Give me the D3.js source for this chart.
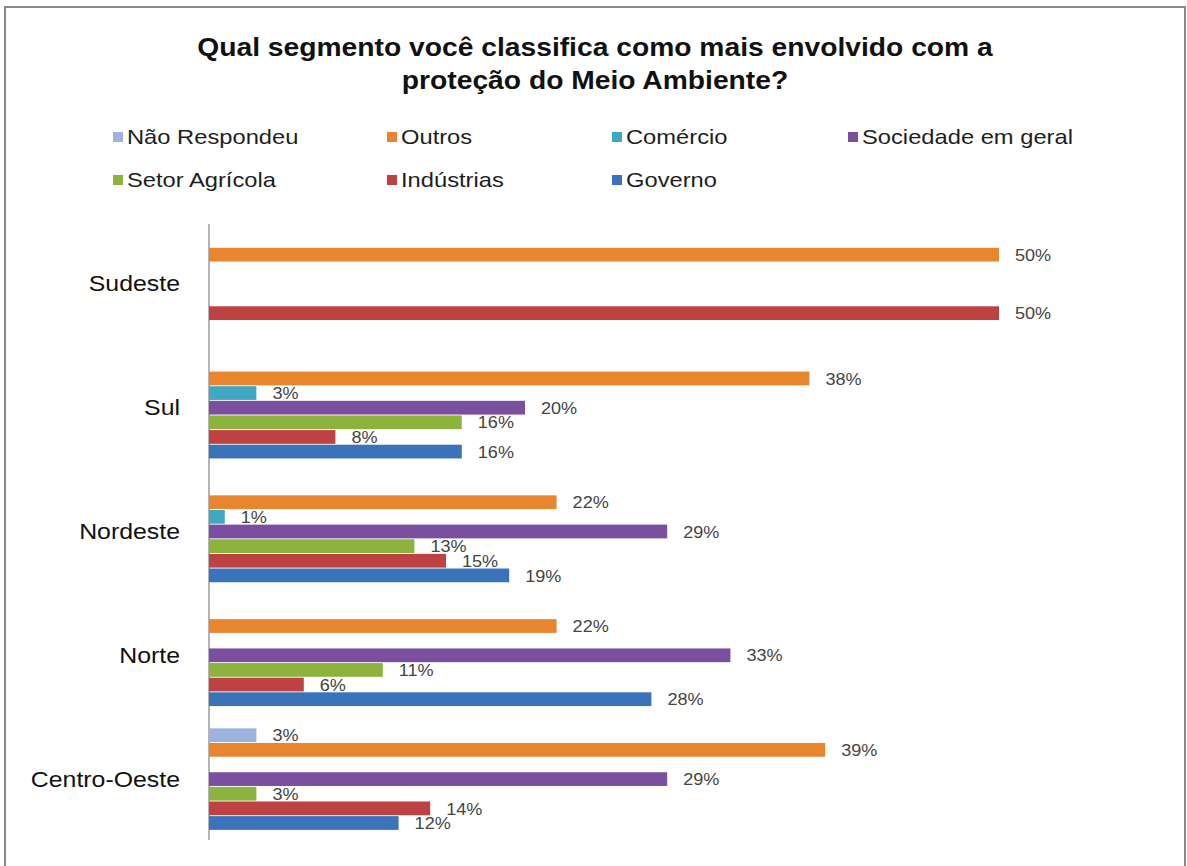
<!DOCTYPE html>
<html><head><meta charset="utf-8">
<script src="https://cdn.jsdelivr.net/npm/d3@7/dist/d3.min.js"></script>
<style>body{margin:0;background:#fff;} text{font-family:"Liberation Sans",Arial,sans-serif;}</style>
</head><body>
<svg id="chart" width="1187" height="866"></svg>
<script>
// ---- data ----
const categories = ["Sudeste", "Sul", "Nordeste", "Norte", "Centro-Oeste"];
const seriesNames = ["Não Respondeu", "Outros", "Comércio", "Sociedade em geral", "Setor Agrícola", "Indústrias", "Governo"];
const naoRespondeu = [0, 0, 0, 0, 3];
const outros       = [50, 38, 22, 22, 39];
const comercio     = [0, 3, 1, 0, 0];
const sociedade    = [0, 20, 29, 33, 29];
const setorAgricola= [0, 16, 13, 11, 3];
const industrias   = [50, 8, 15, 6, 14];
const governo      = [0, 16, 19, 28, 12];
const seriesValues = [naoRespondeu, outros, comercio, sociedade, setorAgricola, industrias, governo];
const seriesColors = ["#9db3de", "#e8852f", "#3fa8c2", "#7b4fa0", "#8db33f", "#be4242", "#3a73b9"];
const titleLines = ["Qual segmento você classifica como mais envolvido com a", "proteção do Meio Ambiente?"];

// ---- layout ----
const svg = d3.select("#chart");
const SX = 1.13; // horizontal text stretch of the original

function stext(g, x, y, str, opts) {
  const t = g.append("text")
    .attr("transform", `translate(${x},${y}) scale(${SX},1)`)
    .attr("x", 0).attr("y", 0)
    .text(str);
  for (const k in opts) t.attr(k, opts[k]);
  return t;
}

// frame
svg.append("rect").attr("x", 5).attr("y", 7).attr("width", 1180).attr("height", 880)
  .attr("fill", "#fff").attr("stroke", "#8a8a8a").attr("stroke-width", 2);

// title
titleLines.forEach((l, i) => {
  stext(svg, 595, 56 + i * 33, l, {"text-anchor": "middle", "font-size": 25, "font-weight": "bold", "fill": "#111"});
});

// legend
const legendPos = [[113,137],[387,137],[612,137],[848,137],[113,180],[387,180],[612,180]];
const lg = svg.append("g");
seriesNames.forEach((s, i) => {
  const [lx, ly] = legendPos[i];
  lg.append("rect").attr("x", lx).attr("y", ly - 5).attr("width", 10).attr("height", 10).attr("fill", seriesColors[i]);
  stext(lg, lx + 14, ly, s, {"font-size": 21, "fill": "#1e1e1e", "dominant-baseline": "central"});
});

// scales
const x = d3.scaleLinear().domain([0, 50]).range([209, 999]);
const y0 = d3.scaleBand().domain(categories).range([222, 841]).paddingInner(0.18).paddingOuter(0.09);
const y1 = d3.scaleBand().domain(seriesNames).range([0, y0.bandwidth()]).paddingInner(0.06);

// axis line
const yAxis = d3.axisLeft(y0).tickSize(0).tickFormat("");
const ag = svg.append("g").attr("transform", `translate(${x(0)},0)`).call(yAxis);
ag.select(".domain").attr("stroke", "#8c8c8c").attr("stroke-width", 1.3)
  .attr("d", `M0,224V840`);

// category labels
categories.forEach(c => {
  stext(svg, 180, y0(c) + y0.bandwidth() / 2, c, {"text-anchor": "end", "font-size": 22, "fill": "#111", "dominant-baseline": "central"});
});

// bars
const data = [];
categories.forEach((c, ci) => {
  seriesNames.forEach((s, si) => {
    const v = seriesValues[si][ci];
    if (v > 0) data.push({c, s, v, color: seriesColors[si]});
  });
});
svg.append("g").selectAll("rect").data(data).join("rect")
  .attr("x", x(0))
  .attr("y", d => y0(d.c) + y1(d.s))
  .attr("width", d => x(d.v) - x(0))
  .attr("height", y1.bandwidth())
  .attr("fill", d => d.color);

// value labels
const vg = svg.append("g");
data.forEach(d => {
  stext(vg, x(d.v) + 16, y0(d.c) + y1(d.s) + y1.bandwidth() / 2 + 1, d.v + "%",
    {"font-size": 16, "fill": "#444", "dominant-baseline": "central"});
});
</script>
</body></html>
